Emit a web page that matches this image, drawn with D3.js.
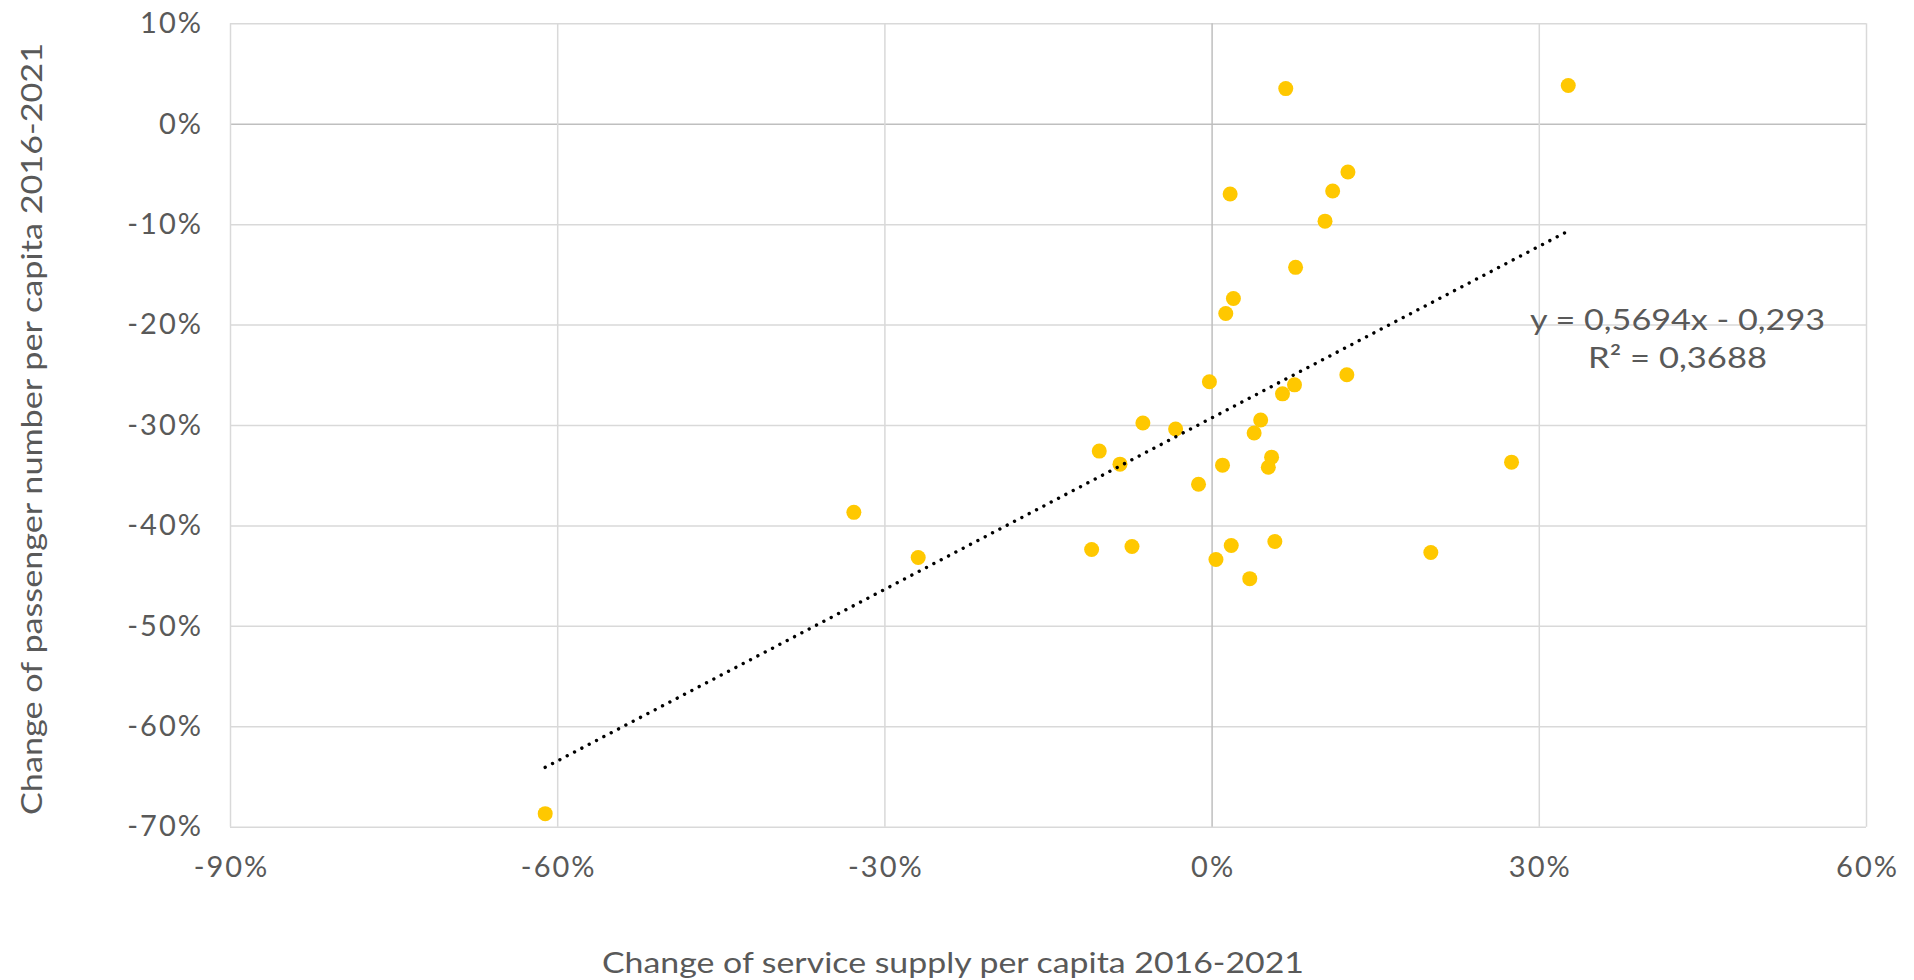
<!DOCTYPE html>
<html><head><meta charset="utf-8">
<script src="https://cdn.jsdelivr.net/npm/d3@7/dist/d3.min.js"></script>
<style>
body{margin:0;background:#fff}
text{font-family:Lato,"Noto Sans",sans-serif;fill:#595959}
</style>
</head><body>
<svg id="c" width="1914" height="980"></svg>
<script>
// Change of service supply per capita (x) and change of passenger number per capita (y)
const xValues = [0.068, 0.327, 0.125, 0.111, 0.017, 0.104, 0.077, 0.020, 0.013, -0.002,
                 0.124, 0.076, 0.065, -0.063, -0.033, -0.103, -0.084, 0.045, 0.039, 0.055,
                 0.052, 0.010, -0.012, -0.110, -0.073, 0.004, 0.018, 0.058, 0.035, 0.275,
                 0.201, -0.328, -0.269, -0.611];
const yValues = [0.035, 0.038, -0.048, -0.067, -0.070, -0.097, -0.143, -0.174, -0.189, -0.257,
                 -0.250, -0.260, -0.269, -0.298, -0.304, -0.326, -0.339, -0.295, -0.308, -0.332,
                 -0.342, -0.340, -0.359, -0.424, -0.421, -0.434, -0.420, -0.416, -0.453, -0.337,
                 -0.427, -0.387, -0.432, -0.687];
const xTickValues = [-0.9, -0.6, -0.3, 0, 0.3, 0.6];
const xTickLabels = ["-90%", "-60%", "-30%", "0%", "30%", "60%"];
const yTickValues = [0.1, 0, -0.1, -0.2, -0.3, -0.4, -0.5, -0.6, -0.7];
const yTickLabels = ["10%", "0%", "-10%", "-20%", "-30%", "-40%", "-50%", "-60%", "-70%"];
const trendSlope = 0.5694;
const trendIntercept = -0.293;
const equationLines = ["y = 0,5694x - 0,293", "R² = 0,3688"];
const xTitle = "Change of service supply per capita 2016-2021";
const yTitle = "Change of passenger number per capita 2016-2021";

const svg = d3.select("#c");
const L = 230, R = 1866, T = 23.3, B = 826.7;
const x = d3.scaleLinear().domain([-0.9, 0.6]).range([L, R]);
const y = d3.scaleLinear().domain([-0.7, 0.1]).range([B, T]);
const FS = 29;

// Y axis with gridlines
const yAxis = svg.append("g").attr("transform", `translate(${L},0)`)
  .call(d3.axisLeft(y).tickValues(yTickValues)
    .tickFormat((d, i) => yTickLabels[i]).tickSize(-(R - L)).tickPadding(27));
yAxis.select(".domain").remove();
yAxis.selectAll("line").attr("stroke", d => d === 0 ? "#bfbfbf" : "#d9d9d9").attr("stroke-width", 1.5);
yAxis.selectAll("text").attr("font-size", FS).attr("fill", "#595959").attr("letter-spacing", 2);

// X axis with gridlines
const xAxis = svg.append("g").attr("transform", `translate(0,${B})`)
  .call(d3.axisBottom(x).tickValues(xTickValues)
    .tickFormat((d, i) => xTickLabels[i]).tickSize(-(B - T)).tickPadding(29.4));
xAxis.select(".domain").remove();
xAxis.selectAll("line").attr("stroke", d => d === 0 ? "#bfbfbf" : "#d9d9d9").attr("stroke-width", 1.5);
xAxis.selectAll("text").attr("font-size", FS).attr("fill", "#595959").attr("letter-spacing", 2).attr("dx", 1);
yAxis.attr("font-family", null); xAxis.attr("font-family", null);

// Points
const pts = xValues.map((v, i) => [v, yValues[i]]);
svg.append("g").selectAll("circle").data(pts).join("circle")
  .attr("cx", d => x(d[0])).attr("cy", d => y(d[1])).attr("r", 7.5)
  .attr("fill", "#FFC800");

// Trendline
const xMin = d3.min(xValues), xMax = d3.max(xValues);
svg.append("line")
  .attr("x1", x(xMin)).attr("y1", y(trendSlope * xMin + trendIntercept))
  .attr("x2", x(xMax)).attr("y2", y(trendSlope * xMax + trendIntercept))
  .attr("stroke", "#000").attr("stroke-width", 3.4)
  .attr("stroke-linecap", "round").attr("stroke-dasharray", "0.01 8.27");

// Equation
const eq = svg.append("g");
eq.append("text").attr("x", 1677.5).attr("y", 330).attr("text-anchor", "middle")
  .attr("font-size", FS).attr("textLength", 295).attr("lengthAdjust", "spacingAndGlyphs")
  .text(equationLines[0]);
eq.append("text").attr("x", 1677.5).attr("y", 368.3).attr("text-anchor", "middle")
  .attr("font-size", FS).attr("textLength", 179).attr("lengthAdjust", "spacingAndGlyphs")
  .text(equationLines[1]);

// Axis titles
svg.append("text").attr("x", 953).attr("y", 973).attr("text-anchor", "middle")
  .attr("font-size", FS).attr("textLength", 702).attr("lengthAdjust", "spacingAndGlyphs")
  .text(xTitle);
svg.append("text").attr("transform", "translate(42,429) rotate(-90)").attr("text-anchor", "middle")
  .attr("font-size", FS).attr("textLength", 772).attr("lengthAdjust", "spacingAndGlyphs")
  .text(yTitle);
</script>
</body></html>
